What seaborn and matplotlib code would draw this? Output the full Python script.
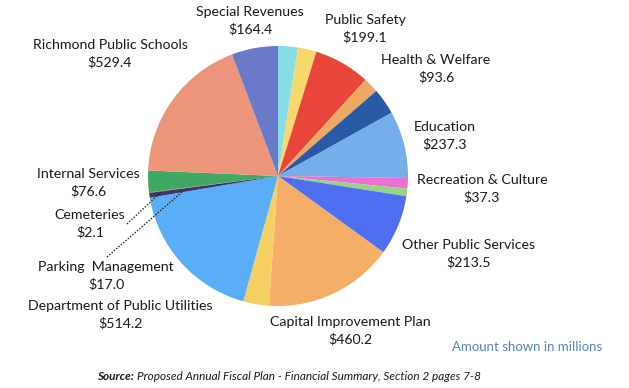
import matplotlib
matplotlib.use("Agg")
import matplotlib.pyplot as plt
import seaborn as sns
from matplotlib.lines import Line2D

sns.set_theme(style="white")
plt.rcParams['font.family'] = ['Lato', 'DejaVu Sans']

# Slices clockwise from 12 o'clock ('' = unlabeled slice)
categories = ["", "", "Public Safety", "", "Health & Welfare", "Education",
              "Recreation & Culture", "", "Other Public Services",
              "Capital Improvement Plan", "", "Department of Public Utilities",
              "Parking  Management", "Cemeteries", "Internal Services",
              "Richmond Public Schools", "Special Revenues"]
values = [70, 66, 199.1, 54, 93.6, 237.3, 37.3, 27, 213.5, 460.2, 91,
          514.2, 17.0, 2.1, 76.6, 529.4, 164.4]
colors = ["#86dde6", "#f6d96c", "#e8453b", "#eeaa62", "#2a5aa5", "#74aeea",
          "#ec6fd2", "#95d585", "#4f6ff2", "#f4ae68", "#f5cf62", "#5aaef7",
          "#3b356a", "#8c6a3e", "#3fa862", "#ed957a", "#6b79c9"]

# label text positions (pixels, centre of two-line label)
label_pos = {
    "Special Revenues": (250, 21),
    "Public Safety": (365, 29),
    "Richmond Public Schools": (110, 54),
    "Health & Welfare": (436, 69),
    "Education": (445, 136),
    "Recreation & Culture": (482, 189),
    "Internal Services": (88, 183),
    "Cemeteries": (90, 224),
    "Other Public Services": (469, 254),
    "Parking  Management": (106, 276),
    "Department of Public Utilities": (120, 315),
    "Capital Improvement Plan": (350, 331),
}

W, H = 629, 388
fig = plt.figure(figsize=(W / 100, H / 100), dpi=100)
fig.patch.set_facecolor("white")
cx, cy, r = 278, 176, 130
ax = fig.add_axes([(cx - r) / W, (H - cy - r) / H, 2 * r / W, 2 * r / H])
ax.pie(values, colors=colors, startangle=90, counterclock=False,
       wedgeprops=dict(linewidth=0))
ax.set_xlim(-1, 1)
ax.set_ylim(-1, 1)
ax.axis("off")

for cat, val in zip(categories, values):
    if cat in label_pos:
        x, y = label_pos[cat]
        fig.text(x / W, 1 - y / H, f"{cat}\n${val:.1f}", ha="center", va="center",
                 fontsize=10.2, color="#1a1a1a", linespacing=1.45)

# leader lines
for (x0, y0), (x1, y1) in [((127, 224), (161, 192)), ((107, 257), (182, 192))]:
    fig.add_artist(Line2D([x0 / W, x1 / W], [1 - y0 / H, 1 - y1 / H],
                          transform=fig.transFigure, color="#222222",
                          linestyle=(0, (1, 1.2)), linewidth=1.0))

fig.text(527 / W, 1 - 347 / H, "Amount shown in millions", ha="center", va="center",
         fontsize=9.5, color="#5b85b5")

src_bold = fig.text(97 / W, 1 - 376 / H, "Source:", ha="left", va="center",
                    fontsize=8.5, fontweight="bold", fontstyle="italic", color="#1a1a1a")
fig.canvas.draw()
bb = src_bold.get_window_extent()
fig.text((bb.x1 + 3) / W, 1 - 376 / H,
         "Proposed Annual Fiscal Plan - Financial Summary, Section 2 pages 7-8",
         ha="left", va="center", fontsize=8.5, fontstyle="italic", color="#1a1a1a")

fig.savefig("out.png", dpi=100)
